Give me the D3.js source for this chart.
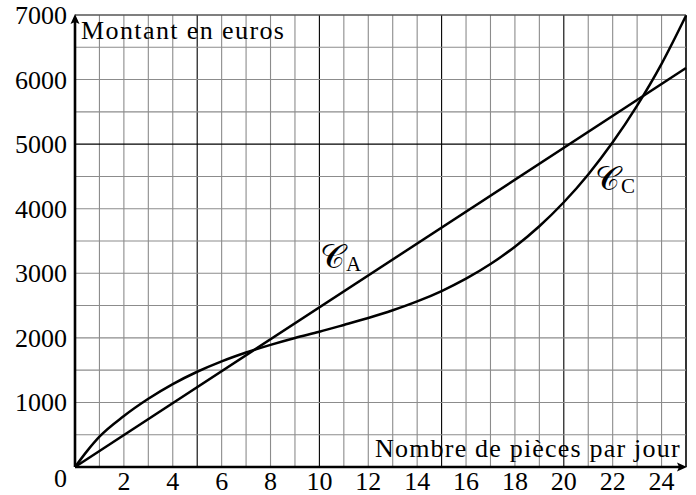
<!DOCTYPE html>
<html>
<head>
<meta charset="utf-8">
<script src="https://cdn.jsdelivr.net/npm/d3@7"></script>
<style>
  body { margin: 0; background: #fff; }
</style>
</head>
<body>
<div id="chart"></div>
<script>
// values
var xTicks = [2, 4, 6, 8, 10, 12, 14, 16, 18, 20, 22, 24];
var yTicks = [1000, 2000, 3000, 4000, 5000, 6000, 7000];

var lineAx = [0, 25];
var lineAy = [0, 6180];

var curveCx = [0, 0.5, 1, 2, 3, 4, 5, 6, 7, 8, 9, 10, 11, 12, 13, 14, 15, 16, 17, 18, 19, 20, 21, 22, 23, 24, 25];
var curveCy = [0, 250, 470, 790, 1057, 1284, 1475, 1636, 1773, 1892, 1999, 2095, 2200, 2308, 2427, 2564, 2725, 2916, 3143, 3412, 3729, 4100, 4531, 5028, 5597, 6244, 6990];

var width = 696, height = 495;
var serif = "Liberation Serif";

var x = d3.scaleLinear().domain([0, 25]).range([75, 686]);
var y = d3.scaleLinear().domain([0, 7000]).range([467, 15]);

var svg = d3.select("#chart").append("svg")
  .attr("width", width)
  .attr("height", height)
  .style("font-family", serif);

// grid
var grid = svg.append("g").attr("class", "grid");

grid.selectAll(".vx")
  .data(d3.range(1, 26))
  .enter().append("line")
  .attr("x1", d => x(d)).attr("x2", d => x(d))
  .attr("y1", y(0)).attr("y2", y(7000))
  .attr("stroke", d => (d % 5 == 0) ? "#000" : "#8c8c8c")
  .attr("stroke-width", d => d == 25 ? 1.6 : 1.1);

grid.selectAll(".hy")
  .data(d3.range(500, 7001, 500))
  .enter().append("line")
  .attr("x1", x(0)).attr("x2", x(25))
  .attr("y1", d => y(d)).attr("y2", d => y(d))
  .attr("stroke", d => (d % 5000 == 0) ? "#000" : "#8c8c8c")
  .attr("stroke-width", d => d == 7000 ? 1.4 : 1.1);

grid.select("line:last-child").attr("stroke", "#555");

// axes
svg.append("line")
  .attr("x1", x(0)).attr("x2", x(25) - 6)
  .attr("y1", y(0)).attr("y2", y(0))
  .attr("stroke", "#000").attr("stroke-width", 2.6);

svg.append("line")
  .attr("x1", x(0)).attr("x2", x(0))
  .attr("y1", y(0)).attr("y2", y(7000) + 6)
  .attr("stroke", "#000").attr("stroke-width", 2.6);

svg.append("path")
  .attr("d", "M" + (x(25) + 1) + "," + y(0) + " l-10,-4.5 l2,4.5 l-2,4.5 z")
  .attr("fill", "#000");

svg.append("path")
  .attr("d", "M" + x(0) + "," + (y(7000) - 1) + " l-4.5,10 l4.5,-2 l4.5,2 z")
  .attr("fill", "#000");

// tick labels
svg.selectAll(".xl")
  .data(xTicks)
  .enter().append("text")
  .attr("x", d => x(d))
  .attr("y", 490)
  .attr("text-anchor", "middle")
  .style("font-size", "26px")
  .text(d => d);

svg.selectAll(".yl")
  .data(yTicks)
  .enter().append("text")
  .attr("x", 67)
  .attr("y", d => y(d) + 9)
  .attr("text-anchor", "end")
  .style("font-size", "26px")
  .text(d => d);

svg.append("text")
  .attr("x", 67).attr("y", 487)
  .attr("text-anchor", "end")
  .style("font-size", "26px")
  .text("0");

// axis titles
svg.append("text")
  .attr("x", 81).attr("y", 39)
  .style("font-size", "26px")
  .style("letter-spacing", "1.4px")
  .text("Montant en euros");

svg.append("text")
  .attr("x", 375).attr("y", 457)
  .style("font-size", "26px")
  .style("letter-spacing", "1.2px")
  .text("Nombre de pièces par jour");

// curves
var pts = d3.line().x(d => x(d[0])).y(d => y(d[1]));

svg.append("path")
  .datum(lineAx.map((v, i) => [v, lineAy[i]]))
  .attr("d", pts)
  .attr("fill", "none")
  .attr("stroke", "#000")
  .attr("stroke-width", 2.5);

svg.append("path")
  .datum(curveCx.map((v, i) => [v, curveCy[i]]))
  .attr("d", pts.curve(d3.curveMonotoneX))
  .attr("fill", "none")
  .attr("stroke", "#000")
  .attr("stroke-width", 2.5);

// curve names
function curveName(px, py, sub) {
  var t = svg.append("text")
    .attr("x", px).attr("y", py)
    .style("font-size", "34px");
  t.append("tspan").text("\uD835\uDC9E");
  t.append("tspan")
    .attr("dy", 3)
    .attr("dx", 1)
    .style("font-size", "21px")
    .text(sub);
}
curveName(320, 268, "A");
curveName(595, 190, "C");
</script>
</body>
</html>
